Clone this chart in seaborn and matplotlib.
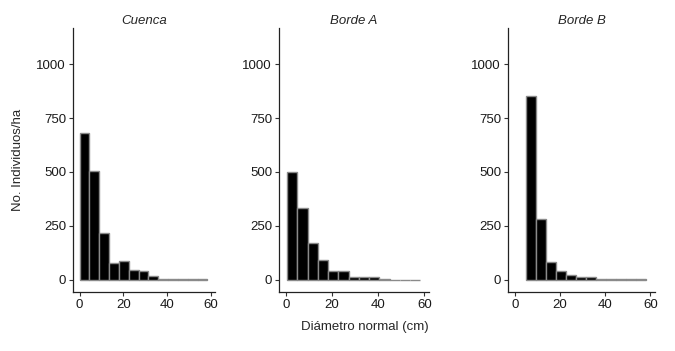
import numpy as np
import pandas as pd
import seaborn as sns
import matplotlib.pyplot as plt

# histogram data (counts per bin, individuos/ha)
sitios = ['Cuenca', 'Borde A', 'Borde B']
inicio_clase = [0.0, 0.5, 4.8]      # left edge of first diameter class (cm)
ancho_clase = [4.5, 4.44, 4.45]     # class width (cm)
cuenca = [682, 506, 218, 77, 87, 46, 40, 20, 3, 3, 2, 2, 2]
borde_a = [500, 334, 171, 93, 43, 39, 12, 12, 12, 4, 1, 1, 1]
borde_b = [853, 282, 81, 42, 23, 12, 12, 2, 2, 2, 2, 2]
conteos = [cuenca, borde_a, borde_b]

y_ticks = [0, 250, 500, 750, 1000]
x_ticks = [0, 20, 40, 60]

sns.set_style('ticks')
plt.rcParams['font.family'] = ['Liberation Sans', 'DejaVu Sans']

fig = plt.figure(figsize=(6.75, 3.51), dpi=100)
W, H = 675, 351
# panel boxes in pixels: left, width
cajas = [(73, 142), (279, 150), (508, 147)]
top, bottom = 28, 292

for sitio, x0, w, n, (left, width) in zip(sitios, inicio_clase, ancho_clase, conteos, cajas):
    ax = fig.add_axes([left / W, (H - bottom) / H, width / W, (bottom - top) / H])
    edges = [x0 + w * i for i in range(len(n) + 1)]
    d = pd.DataFrame({'diam': [(a + b) / 2 for a, b in zip(edges[:-1], edges[1:])],
                      'n': n})
    sns.histplot(data=d, x='diam', weights='n', bins=edges, ax=ax,
                 color='black', edgecolor='#8a8a8a', linewidth=1.0, alpha=1)
    ax.set_xlim(-3, 62)
    ax.set_ylim(-56, 1167)
    ax.set_xticks(x_ticks)
    ax.set_yticks(y_ticks)
    ax.tick_params(labelsize=9.5, length=3, width=0.8, color='#333333',
                   labelcolor='#1a1a1a', pad=2)
    for s in ['left', 'bottom']:
        ax.spines[s].set_linewidth(0.9)
        ax.spines[s].set_color('#222222')
    sns.despine(ax=ax)
    ax.set_xlabel('')
    ax.set_ylabel('')
    ax.set_title(sitio, fontsize=9.5, style='italic', pad=3)

fig.text(18 / W, 1 - 160 / H, 'No. Individuos/ha', rotation=90, fontsize=9.5,
         ha='center', va='center')
fig.text(365 / W, 1 - 327 / H, 'Diámetro normal (cm)', fontsize=9.5,
         ha='center', va='center')

fig.savefig('out.png', dpi=100)
